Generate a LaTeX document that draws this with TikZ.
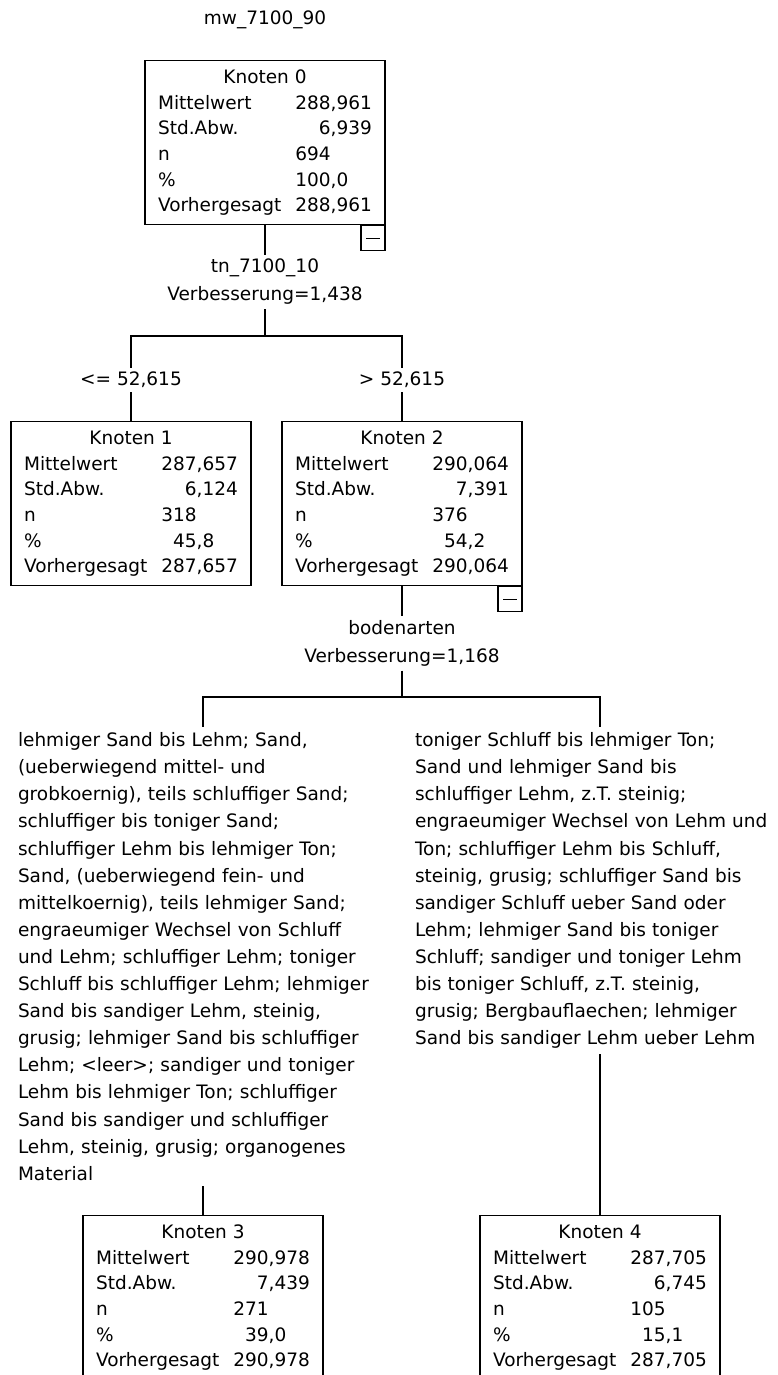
\documentclass[tikz,border=0pt]{standalone}
\usepackage{fontspec}
\setmainfont{DejaVu Sans}
\usetikzlibrary{positioning}
\tikzset{
  every picture/.style={font=\fontsize{18.5}{27.1}\selectfont, line width=1.1pt},
  knoten/.style={draw, anchor=north, minimum width=240pt, minimum height=164pt, inner sep=0pt, font=\fontsize{18.5}{25.6}\selectfont},
  minusbox/.style={draw, anchor=north east, minimum width=24pt, minimum height=25pt, inner sep=0pt},
  splitlabel/.style={align=center, inner sep=4pt, font=\fontsize{18.5}{28}\selectfont},
  branchlabel/.style={inner sep=4pt},
  kategorie/.style={anchor=north, text width=370pt, align=left, inner xsep=0pt, inner ysep=5pt},
}

\begin{document}
\begin{tikzpicture}[x=1pt, y=-1pt]
  \def\stat#1#2#3#4#5#6{\begin{tabular}{@{}l@{\hspace{14pt}}r@{}}
    \multicolumn{2}{@{}c@{}}{Knoten #1}\\
    Mittelwert & #2\\
    Std.Abw. & #3\\
    n & \multicolumn{1}{@{}l@{}}{#4}\\
    \% & #5\phantom{00}\\
    Vorhergesagt & #6
  \end{tabular}}
  \useasboundingbox (0,0) rectangle (777,1375);
  \fill[white] (0,0) rectangle (777,1375);
  \node (titel) at (265,20) {mw\_7100\_90};
  \node[knoten] (n0) at (265,60) {\stat{0}{288,961}{6,939}{694}{100,0}{288,961}};
  \node[splitlabel] (s0) at (265,282) {tn\_7100\_10\\Verbesserung=1,438};
  \coordinate (bar0) at (265,336);
  \node[branchlabel] (b1) at (131,380) {<= 52,615};
  \node[branchlabel] (b2) at (402,380) {> 52,615};
  \node[knoten] (n1) at (131,421) {\stat{1}{287,657}{6,124}{318}{45,8}{287,657}};
  \node[knoten] (n2) at (402,421) {\stat{2}{290,064}{7,391}{376}{54,2}{290,064}};
  \node[splitlabel] (s1) at (402,643) {bodenarten\\Verbesserung=1,168};
  \coordinate (bar1) at (402,697);
  \node[kategorie] (k3) at (203,727) {lehmiger Sand bis Lehm; Sand,\\
    (ueberwiegend mittel- und\\
    grobkoernig), teils schluffiger Sand;\\
    schluffiger bis toniger Sand;\\
    schluffiger Lehm bis lehmiger Ton;\\
    Sand, (ueberwiegend fein- und\\
    mittelkoernig), teils lehmiger Sand;\\
    engraeumiger Wechsel von Schluff\\
    und Lehm; schluffiger Lehm; toniger\\
    Schluff bis schluffiger Lehm; lehmiger\\
    Sand bis sandiger Lehm, steinig,\\
    grusig; lehmiger Sand bis schluffiger\\
    Lehm; <leer>; sandiger und toniger\\
    Lehm bis lehmiger Ton; schluffiger\\
    Sand bis sandiger und schluffiger\\
    Lehm, steinig, grusig; organogenes\\
    Material};
  \node[kategorie] (k4) at (600,727) {toniger Schluff bis lehmiger Ton;\\
    Sand und lehmiger Sand bis\\
    schluffiger Lehm, z.T. steinig;\\
    engraeumiger Wechsel von Lehm und\\
    Ton; schluffiger Lehm bis Schluff,\\
    steinig, grusig; schluffiger Sand bis\\
    sandiger Schluff ueber Sand oder\\
    Lehm; lehmiger Sand bis toniger\\
    Schluff; sandiger und toniger Lehm\\
    bis toniger Schluff, z.T. steinig,\\
    grusig; Bergbauflaechen; lehmiger\\
    Sand bis sandiger Lehm ueber Lehm};
  \node[knoten] (n3) at (203,1215) {\stat{3}{290,978}{7,439}{271}{39,0}{290,978}};
  \node[knoten] (n4) at (600,1215) {\stat{4}{287,705}{6,745}{105}{15,1}{287,705}};
  \foreach \k in {n0, n2}
    \node[minusbox] (m-\k) at (\k.south east) {\rule{14pt}{1.1pt}};
  \draw (n0.south) -- (s0.north);
  \draw (s0.south) -- (bar0);
  \draw (bar0) -| (b1.north);
  \draw (bar0) -| (b2.north);
  \draw (b1.south) -- (n1.north);
  \draw (b2.south) -- (n2.north);
  \draw (n2.south) -- (s1.north);
  \draw (s1.south) -- (bar1);
  \draw (bar1) -| (k3.north);
  \draw (bar1) -| (k4.north);
  \draw (k3.south) -- (n3.north);
  \draw (k4.south) -- (n4.north);
\end{tikzpicture}
\end{document}
